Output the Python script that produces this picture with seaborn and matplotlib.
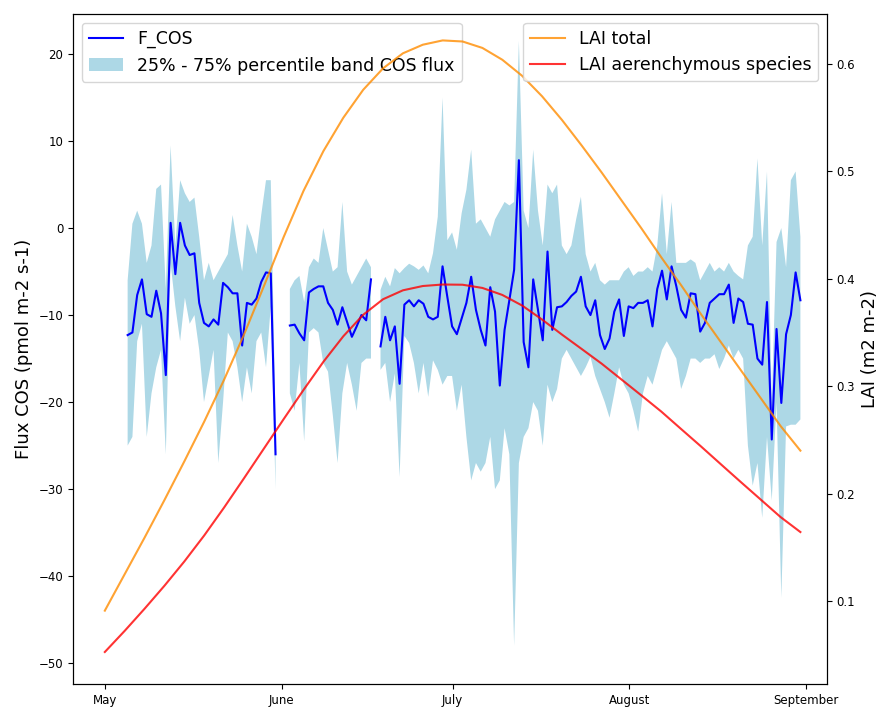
import numpy as np
import pandas as pd
import matplotlib
matplotlib.use("Agg")
import matplotlib.pyplot as plt
from matplotlib.lines import Line2D
from matplotlib.patches import Patch
import seaborn as sns

nan = np.nan

# ---------------- data ----------------
fcos_start, fcos_end = "2019-05-05", "2019-08-31"

f_cos = [
    -12.3, -12.0, -7.7, -5.9, -9.9, -10.2, -7.2, -9.8, -16.9, 0.6,
    -5.3, 0.6, -2.0, -3.1, -2.9, -8.6, -10.9, -11.3, -10.5, -11.1,
    -6.3, -6.8, -7.5, -7.5, -13.5, -8.6, -8.8, -8.1, -6.2, -5.1,
    -5.2, -26.0,
    nan, nan,
    -11.2, -11.1, -12.1, -12.9, -7.4, -7.0, -6.7, -6.7, -8.6, -9.4,
    -11.1, -9.1, -10.8, -12.5, -11.3, -10.0, -10.6, -5.9,
    nan,
    -13.6, -10.2, -12.9, -11.3, -17.9, -8.8, -8.3, -9.0, -8.3, -8.7,
    -10.2, -10.5, -10.2, -4.4, -7.9, -11.3, -12.2, -10.4, -8.6, -5.6,
    -9.4,
    -11.7, -13.5, -6.8, -9.6, -18.1, -11.7, -8.3, -4.8, 7.8, -13.1,
    -16.0, -5.9, -9.4, -12.9, -2.7, -11.7, -9.1, -9.0, -8.5, -7.8,
    -7.3, -5.6, -9.0, -10.0, -8.3, -12.3, -13.9, -12.7, -9.6, -8.2,
    -12.4, -9.0, -9.2, -8.6, -8.6, -8.3, -11.3, -7.0,
    -4.9, -8.2, -4.4, -6.7, -9.4, -10.3, -7.5, -7.6, -11.9, -10.9,
    -8.6, -8.1, -7.6, -7.6, -6.5, -10.9, -8.1, -8.5, -11.0, -11.1,
    -15.0, -15.7, -8.5, -24.3, -11.6, -20.1, -12.2, -10.0, -5.1, -8.3,
]

band_lo = [
    -25, -24, -13, -11, -24, -19, -16, -14, -26, -4,
    -9, -13, -8, -11, -10, -14, -20, -17, -14, -27,
    -20, -12, -13, -16, -20, -16, -19, -13, -12, -16,
    -9, -30,
    nan, nan,
    -19, -21, -15.5, -24.5, -12, -11.5, -12, -15.5, -16.5, -21.5,
    -27, -19, -15.5, -18, -21, -15.5, -15, -15,
    nan,
    -16.3, -15.5, -20, -16.7, -28.6, -12.4, -13.2, -15.5, -19, -15.5,
    -19.4, -15.2, -16.3, -18, -17, -17, -21, -18, -24, -29,
    -27,
    -28, -27, -24, -30, -29, -23, -26, -48, -27, -24,
    -23, -20, -21, -25, -18, -20, -18.5, -15, -14, -15,
    -16, -17, -16, -14.8, -17, -18.5, -20, -21.8, -19, -16,
    -18, -19, -21, -23.4, -19, -17, -18, -16,
    -14, -13, -14, -15, -18.5, -17, -15, -15, -15.5, -15,
    -15, -14.5, -16.2, -15, -13.5, -15, -14, -15, -25, -29.6,
    -27, -33.3, -24, -31.3, -20, -42.5, -22.8, -22.6, -22.6, -22,
]

band_hi = [
    -6, 0.5, 2, 0.5, -4, -2, 4.5, 5, -7, 9.5,
    -2, 5.5, 4, 3, 3.5, -1, -6, -4, -6, -5,
    -4, -3, 1.5, -2, -5, 0.5, -1, -3, 1.5, 5.5,
    5.5, -22,
    nan, nan,
    -7, -6, -5.5, -8.5, -4.5, -3.5, -4, 0, -2.5, -5,
    -4.5, 3, -5, -6.5, -5.5, -4.5, -3.5, -4.5,
    nan,
    -7.1, -5.6, -6.7, -4.6, -5.2, -4.6, -4.1, -4.4, -4.8, -4.3,
    -5.2, -2.9, 1.3, 15, -1.4, -0.5, -2.5, 1.7, 4.4, 9,
    0.5,
    1, 0, -1, 1, 2, 3, 2.6, 3, 21.5, 2,
    0, 9, 2, -2, 5, 4, 5, -2, -3, -2,
    1, 3.6, -3, -5, -4, -6, -6.5, -6, -6, -6,
    -5, -4.5, -5.5, -5, -5, -4.5, -5, -2,
    4, -3, 3, -4, -4, -4, -3.6, -4, -6, -5,
    -4, -5, -4.5, -5, -4, -5, -5.5, -5.9, -2, -1,
    8, -2, 6.5, -20, -1.6, 0, -4.5, 5.5, 6.5, -1,
]

lai_start, lai_end = "2019-05-01", "2019-08-31"

lai_total = [
    0.091, 0.125, 0.159, 0.194, 0.230, 0.267, 0.306, 0.348, 0.393, 0.439,
    0.482, 0.519, 0.550, 0.576, 0.596, 0.610, 0.618, 0.622, 0.621, 0.615,
    0.604, 0.589, 0.570, 0.548, 0.524, 0.499, 0.473, 0.447, 0.420, 0.394,
    0.367, 0.341, 0.315, 0.289, 0.263, 0.240,
]

lai_aer = [
    0.0525, 0.0722, 0.0928, 0.1142, 0.1368, 0.1610, 0.1870, 0.2142, 0.2418, 0.2694,
    0.2966, 0.3228, 0.3465, 0.3665, 0.3810, 0.3893, 0.3933, 0.3947, 0.3945, 0.3915,
    0.3850, 0.3751, 0.3621, 0.3481, 0.3346, 0.3210, 0.3062, 0.2914, 0.2764, 0.2601,
    0.2439, 0.2273, 0.2108, 0.1945, 0.1782, 0.1642,
]

month_labels = ["May", "June", "July", "August", "September"]

# ---------------- frames ----------------
df = pd.DataFrame({
    "date": pd.date_range(fcos_start, fcos_end, periods=len(f_cos)),
    "F_COS": f_cos,
    "lo": band_lo,
    "hi": band_hi,
})
df["seg"] = df["F_COS"].isna().cumsum()

lai = pd.DataFrame({
    "date": pd.date_range(lai_start, lai_end, periods=len(lai_total)),
    "total": lai_total,
    "aer": lai_aer,
})

# ---------------- figure ----------------
W, H = 882, 707
fig = plt.figure(figsize=(W / 100, H / 100), dpi=100)
ax = fig.add_axes([73 / W, 1 - 684 / H, (827 - 73) / W, (684 - 14) / H])

ax.fill_between(df["date"], df["lo"], df["hi"], color="lightblue", linewidth=0)
sns.lineplot(data=df.dropna(subset=["F_COS"]), x="date", y="F_COS", units="seg",
             estimator=None, color="blue", linewidth=1.5, ax=ax)

ax2 = ax.twinx()
sns.lineplot(data=lai, x="date", y="total", color="darkorange", alpha=0.8,
             linewidth=1.5, ax=ax2)
sns.lineplot(data=lai, x="date", y="aer", color="red", alpha=0.8,
             linewidth=1.5, ax=ax2)

ax.set_ylim(-52.4, 24.6)
ax2.set_ylim(0.0227, 0.6466)
ax.set_xlim(pd.Timestamp("2019-04-25 10:00"), pd.Timestamp("2019-09-04 16:00"))

ticks = pd.date_range("2019-05-01", "2019-09-01", freq="MS")
ax.set_xticks(ticks)
ax.set_xticklabels(month_labels)

ax.set_xlabel("")
ax.set_ylabel("Flux COS (pmol m-2 s-1)", fontsize=13)
ax2.set_ylabel("LAI (m2 m-2)", fontsize=13)
ax.tick_params(labelsize=8.5)
ax2.tick_params(labelsize=8.5)

leg1 = ax.legend(
    handles=[Line2D([], [], color="blue", linewidth=1.5),
             Patch(facecolor="lightblue", edgecolor="none")],
    labels=["F_COS", "25% - 75% percentile band COS flux"],
    loc="upper left", fontsize=12.5)
leg2 = ax2.legend(
    handles=[Line2D([], [], color="darkorange", alpha=0.8, linewidth=1.5),
             Line2D([], [], color="red", alpha=0.8, linewidth=1.5)],
    labels=["LAI total", "LAI aerenchymous species"],
    loc="upper right", fontsize=12.5)

fig.savefig("out.png", dpi=100)
